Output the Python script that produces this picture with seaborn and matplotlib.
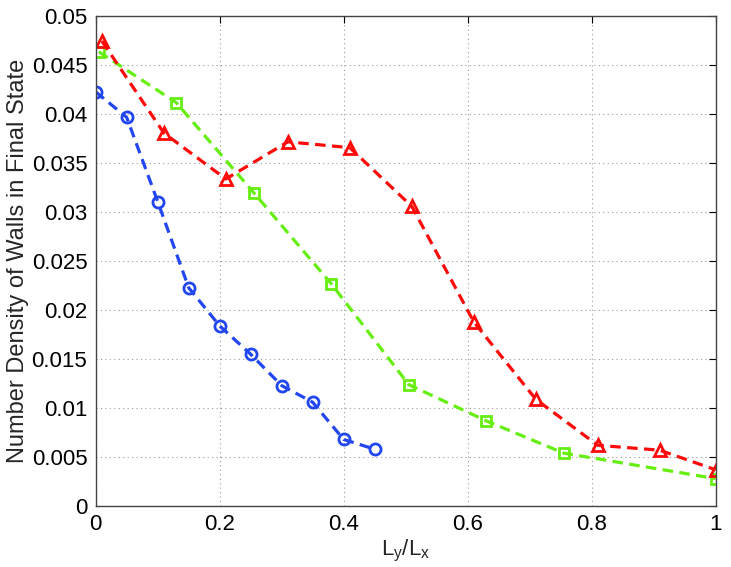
import matplotlib
matplotlib.use("Agg")
import matplotlib.pyplot as plt
import seaborn as sns
import pandas as pd
import numpy as np

# data
blue_x = [0.0, 0.05, 0.10, 0.15, 0.20, 0.25, 0.30, 0.35, 0.40, 0.45]
blue_y = [0.0423, 0.0397, 0.0311, 0.0223, 0.0184, 0.0155, 0.0123, 0.0106, 0.0068, 0.0058]

green_x = [0.005, 0.13, 0.255, 0.38, 0.505, 0.63, 0.755, 1.0]
green_y = [0.0464, 0.0412, 0.0320, 0.0227, 0.0124, 0.0087, 0.0054, 0.0028]

red_x = [0.01, 0.11, 0.21, 0.31, 0.41, 0.51, 0.61, 0.71, 0.81, 0.91, 1.0]
red_y = [0.0475, 0.0381, 0.0334, 0.0372, 0.0366, 0.0306, 0.0188, 0.0109, 0.0062, 0.0057, 0.0037]

x_ticks = [0, 0.2, 0.4, 0.6, 0.8, 1.0]
x_ticklabels = ["0", "0.2", "0.4", "0.6", "0.8", "1"]
y_ticks = [0, 0.005, 0.01, 0.015, 0.02, 0.025, 0.03, 0.035, 0.04, 0.045, 0.05]
y_ticklabels = ["0", "0.005", "0.01", "0.015", "0.02", "0.025", "0.03", "0.035", "0.04", "0.045", "0.05"]

sns.set_style("white")
plt.rcParams['font.family'] = ['Liberation Sans', 'DejaVu Sans']
plt.rcParams['mathtext.fontset'] = 'custom'
plt.rcParams['mathtext.rm'] = 'Liberation Sans'
plt.rcParams['mathtext.it'] = 'Liberation Sans'

fig = plt.figure(figsize=(7.31, 5.67), dpi=100)
ax = fig.add_axes([0.1309, 0.1076, 0.848, 0.8633])

series = [
    (blue_x, blue_y, "#2246f0", "o", 8),
    (green_x, green_y, "#66ee11", "s", 7),
    (red_x, red_y, "#ff0a0a", "^", 9),
]
for xs, ys, col, mk, ms in series:
    df = pd.DataFrame({"x": xs, "y": ys})
    sns.lineplot(data=df, x="x", y="y", ax=ax, color=col, linestyle=(0, (3.3, 2.0)),
                 linewidth=2.3, marker=mk, markersize=ms,
                 markerfacecolor="none", markeredgecolor=col, markeredgewidth=2.0,
                 sort=False, estimator=None)

ax.set_xlim(0, 1)
ax.set_ylim(0, 0.05)
ax.set_xticks(x_ticks)
ax.set_xticklabels(x_ticklabels)
ax.set_yticks(y_ticks)
ax.set_yticklabels(y_ticklabels)
ax.grid(True, linestyle=(0, (1, 3)), color="#999999", linewidth=0.8)
ax.tick_params(direction="in", length=5, width=0.8, labelsize=16, colors="black",
               top=True, right=True, pad=6)
for s in ax.spines.values():
    s.set_color("#444444")
    s.set_linewidth(1.0)
ax.set_xlabel(r"L$_y$/L$_x$", fontsize=16, labelpad=2)
ax.set_ylabel("Number Density of Walls in Final State", fontsize=17, labelpad=2)

fig.savefig("out.png", dpi=100)
